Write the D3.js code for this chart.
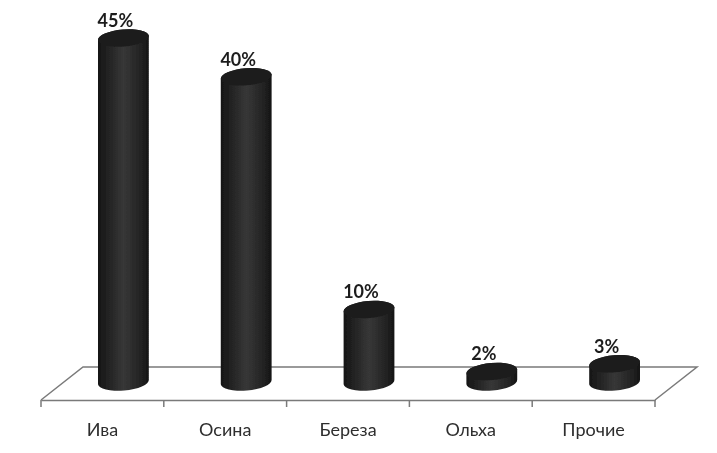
<!DOCTYPE html>
<html>
<head>
<meta charset="utf-8">
<script src="https://cdn.jsdelivr.net/npm/d3@7"></script>
<style>
	html, body { margin: 0; padding: 0; background: #fff; }
	svg { display: block; }
	text { font-family: Lato, "Open Sans", sans-serif; }
</style>
</head>
<body>
<div id="chart"></div>
<script>
var categories = ['Ива', 'Осина', 'Береза', 'Ольха', 'Прочие'];
var shares = [45, 40, 10, 2, 3];

var width = 717, height = 453;
var left = 41, right = 655, front = 400, back = 367, depth = 42;

var svg = d3.select('#chart').append('svg')
	.attr('width', width)
	.attr('height', height);

var defs = svg.append('defs');

// Soft edges, the reference is a blurred scan
defs.append('filter').attr('id', 'soft')
	.append('feGaussianBlur').attr('stdDeviation', 0.5);

var grad = defs.append('linearGradient').attr('id', 'barFill');
[[0, '#161616'], [0.15, '#1f1f1f'], [0.5, '#373737'], [0.85, '#222'], [1, '#141414']].forEach(function(s) {
	grad.append('stop').attr('offset', s[0]).attr('stop-color', s[1]);
});

var g = svg.append('g').attr('filter', 'url(#soft)');

var x = d3.scaleBand().domain(categories).range([left, right]);
var y = d3.scaleLinear().domain([0, 45]).range([387, 38]);

// Floor of the 3D chart
g.append('path')
	.attr('d', 'M' + left + ',' + front + 'L' + (left + depth) + ',' + back +
		'L' + (right + depth) + ',' + back + 'L' + right + ',' + front)
	.attr('fill', 'none')
	.attr('stroke', '#7a7a7a')
	.attr('stroke-width', 1.5);

// Axis with the labels, ticks are drawn at the band edges
var axis = g.append('g')
	.attr('transform', 'translate(0,' + front + ')')
	.call(d3.axisBottom(x).tickSize(0).tickPadding(23));
axis.select('.domain').attr('stroke', '#7a7a7a').attr('stroke-width', 1.5);
axis.selectAll('text')
	.attr('font-size', 18)
	.attr('fill', '#2e2e2e')
	.style('font-family', 'Lato, "Open Sans", sans-serif');

var edges = categories.map(function(c) { return x(c); }).concat([right]);
g.selectAll('.tick-mark')
	.data(edges)
	.enter().append('line')
		.attr('class', 'tick-mark')
		.attr('x1', function(d) { return d; })
		.attr('x2', function(d) { return d; })
		.attr('y1', front)
		.attr('y2', front + 7)
		.attr('stroke', '#7a7a7a')
		.attr('stroke-width', 1.5);

// Cylinders
var rx = 25.5, ry = 8.5, tilt = 5, base = 382;
var dx = rx * Math.cos(tilt * Math.PI / 180), dy = rx * Math.sin(tilt * Math.PI / 180);

function center(c) {
	return x(c) + x.bandwidth() / 2 + depth / 2;
}

var bars = g.selectAll('.bar')
	.data(categories)
	.enter().append('g')
		.attr('class', 'bar');

bars.append('path')
	.attr('d', function(c, i) {
		var cx = center(c), top = y(shares[i]);
		var arc = 'A' + rx + ',' + ry + ' ' + (-tilt) + ' 0 ';
		return 'M' + (cx - dx) + ',' + (top + dy) +
			'L' + (cx - dx) + ',' + (base + dy) +
			arc + '0 ' + (cx + dx) + ',' + (base - dy) +
			'L' + (cx + dx) + ',' + (top - dy) +
			arc + '0 ' + (cx - dx) + ',' + (top + dy) + 'Z';
	})
	.attr('fill', 'url(#barFill)');

bars.append('ellipse')
	.attr('rx', rx)
	.attr('ry', ry)
	.attr('transform', function(c, i) {
		return 'translate(' + center(c) + ',' + y(shares[i]) + ') rotate(' + (-tilt) + ')';
	})
	.attr('fill', '#1c1c1c');

bars.append('text')
	.attr('x', function(c) { return center(c) - 8; })
	.attr('y', function(c, i) { return y(shares[i]) - 11; })
	.attr('text-anchor', 'middle')
	.attr('font-size', 18)
	.attr('font-weight', 700)
	.attr('fill', '#1e1e1e')
	.text(function(c, i) { return shares[i] + '%'; });
</script>
</body>
</html>
